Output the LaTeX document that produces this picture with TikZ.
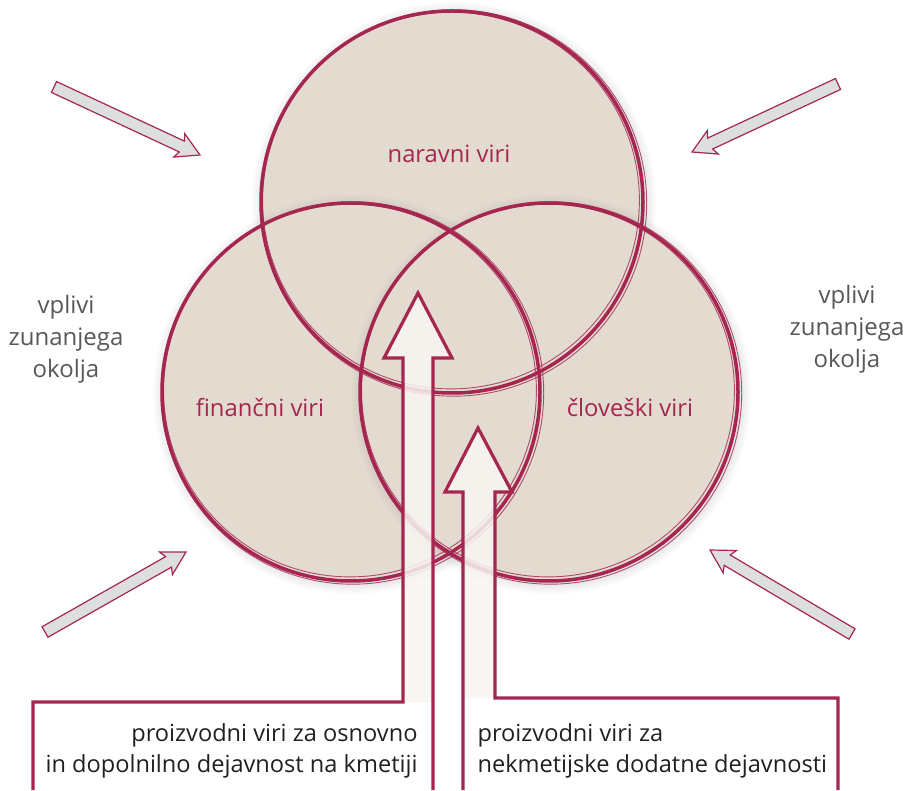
\documentclass[tikz,border=0pt]{standalone}
\usepackage{fontspec}
\setmainfont{Open Sans}
\usetikzlibrary{calc}
\usetikzlibrary{shadows}
\usetikzlibrary{fadings}
\definecolor{wine}{RGB}{165,38,80}
\definecolor{sand}{RGB}{228,219,208}
\definecolor{mist}{RGB}{221,222,223}
\definecolor{ash}{RGB}{88,88,88}
\definecolor{ink}{RGB}{35,31,32}
\definecolor{cream}{RGB}{248,245,241}
\tikzset{
	circlestyle/.style={circle,fill=sand,inner sep=0pt,circular drop shadow={shadow scale=1.06,opacity=0.5}},
	rimstyle/.style={draw=wine,line width=3.5pt},
	rimthin/.style={draw=wine,line width=0.9pt,opacity=0.8},
	pushstyle/.style={draw=wine,fill=mist,line width=1.2pt,line join=miter},
	bigarrow/.style={draw=wine,line width=3.2pt,line join=miter},
	arrowfill/.style={fill=cream,fill opacity=0.85},
	resourcestyle/.style={text=wine,font=\fontsize{23.8}{28}\selectfont,anchor=base},
	outerstyle/.style={text=ash,font=\fontsize{24}{32}\selectfont,align=center},
	basetext/.style={text=ink,font=\fontsize{23.6}{30.5}\selectfont}
}
\newcommand{\pusharrow}[2]{%
	\coordinate (#1-b) at ($(#2)!20pt!(#1)$);
	\coordinate (#1-w) at ($(#2)!23pt!(#1)$);
	\draw[pushstyle] ($(#1)!6pt!90:(#2)$) -- ($(#1-b)!6pt!90:(#2)$) -- ($(#1-w)!13pt!90:(#2)$) -- (#2)
		-- ($(#1-w)!13pt!-90:(#2)$) -- ($(#1-b)!6pt!-90:(#2)$) -- ($(#1)!6pt!-90:(#2)$) -- cycle;
}

\begin{document}
\begin{tikzpicture}[x=1pt,y=1pt]
	\useasboundingbox (0,0) rectangle (910,790);
	\node[circlestyle,minimum size=382pt] (naravni) at (452,588) {};
	\node[circlestyle,minimum size=378pt] (financni) at (351,398) {};
	\node[circlestyle,minimum size=378pt] (cloveski) at (549,398) {};
	\foreach \c/\r in {naravni/191,financni/189,cloveski/189}{
		\draw[rimstyle] (\c.center) circle[radius=\r];
		\draw[rimthin] ([shift={(1.5,-1)}]\c.center) circle[radius=\r+2.2];
		\draw[rimthin] ([shift={(-1,1.5)}]\c.center) circle[radius=\r-2.6];
	}
	\node[resourcestyle] (lnaravni) at (449,627) {naravni viri};
	\node[resourcestyle] (lfinancni) at (260,373) {finančni viri};
	\node[resourcestyle] (lcloveski) at (630,373) {človeški viri};
	\node[outerstyle] (vplivileft) at (66,451) {vplivi\\zunanjega\\okolja};
	\node[outerstyle] (vpliviright) at (847,461) {vplivi\\zunanjega\\okolja};
	\coordinate (tlA) at (54,703);
	\coordinate (tlB) at (200,635);
	\coordinate (trA) at (838,706);
	\coordinate (trB) at (692,638);
	\coordinate (blA) at (45,158);
	\coordinate (blB) at (186,238);
	\coordinate (brA) at (852,156);
	\coordinate (brB) at (710,240);
	\pusharrow{tlA}{tlB}
	\pusharrow{trA}{trB}
	\pusharrow{blA}{blB}
	\pusharrow{brA}{brB}
	\coordinate (tipA) at (418,497);
	\coordinate (tipB) at (478,362);
	\fill[arrowfill] (403,88) -- (403,432) -- (384,432) -- (tipA) -- (452,432) -- (433,432) -- (433,88) -- cycle;
	\fill[arrowfill] (463,92) -- (463,298) -- (445,298) -- (tipB) -- (512,298) -- (495,298) -- (495,92) -- cycle;
	\draw[bigarrow] (33,0) -- (33,88) -- (403,88) -- (403,432) -- (384,432) -- (tipA) -- (452,432) -- (433,432) -- (433,0);
	\draw[bigarrow] (463,0) -- (463,298) -- (445,298) -- (tipB) -- (512,298) -- (495,298) -- (495,92) -- (838,92) -- (838,0);
	\node[basetext,align=right,anchor=base east] (osnovno) at (421,18) {proizvodni viri za osnovno\\in dopolnilno dejavnost na kmetiji};
	\node[basetext,align=left,anchor=base west] (dodatne) at (474,18) {proizvodni viri za\\nekmetijske dodatne dejavnosti};
\end{tikzpicture}
\end{document}
